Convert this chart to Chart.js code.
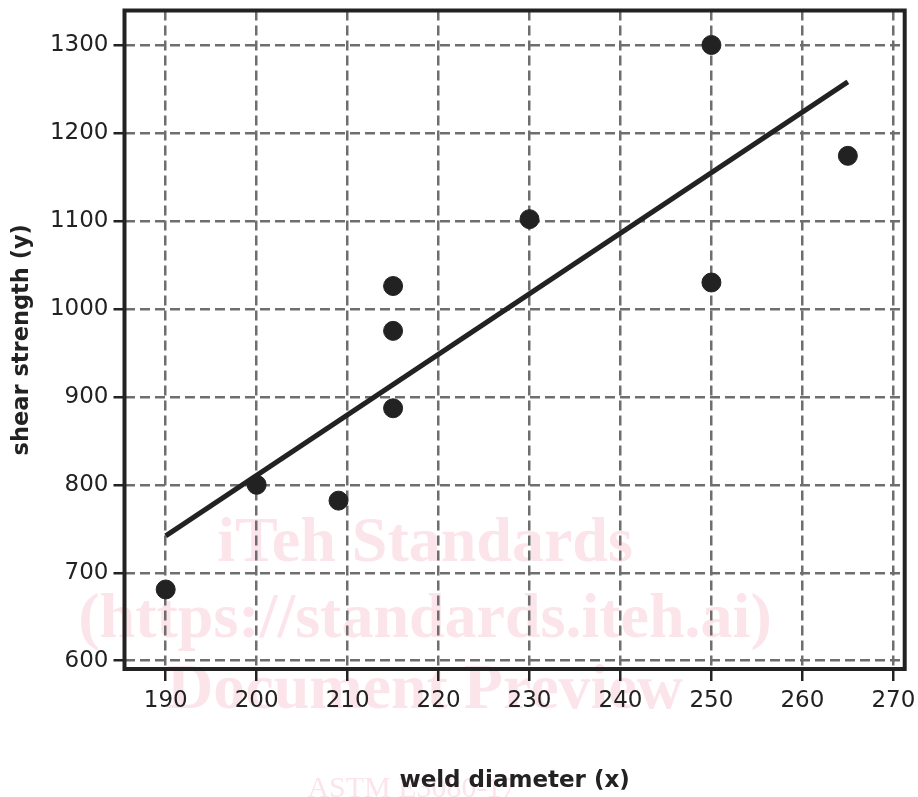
<!DOCTYPE html>
<html lang="en">
<head>
  <meta charset="UTF-8">
  <title>Shear strength vs weld diameter</title>
  <script src="https://cdn.jsdelivr.net/npm/chart.js"></script>
  <style>
    body { margin: 0; background: #fff; }
    .wrap { width: 918px; height: 797px; position: relative; }
  </style>
</head>
<body>
<div class="wrap"><canvas id="weldChart"></canvas></div>
<script>
  const diameter = [190, 200, 209, 215, 215, 215, 230, 250, 250, 265];
  const strength = [681, 800, 782, 1026, 975, 887, 1102, 1300, 1030, 1174];

  // fitted line end points
  const fitX = [190, 265];
  const fitY = [742, 1258];

  const ink = '#222222';
  const gridGrey = '#6e6e6e';
  const tickFont = { family: 'DejaVu Sans', size: 23 };

  // faint watermark behind the plot
  const watermark = {
    id: 'watermark',
    beforeDraw(chart) {
      const ctx = chart.ctx;
      ctx.save();
      ctx.fillStyle = 'rgba(235,130,160,0.22)';
      ctx.textAlign = 'center';
      ctx.textBaseline = 'alphabetic';
      ctx.font = 'bold 64px "Liberation Serif"';
      ctx.fillText('iTeh Standards', 425, 561);
      ctx.fillText('(https://standards.iteh.ai)', 425, 637);
      ctx.fillText('Document Preview', 425, 708);
      ctx.font = '30px "Liberation Serif"';
      ctx.fillText('ASTM E3080-17', 412, 797);
      ctx.restore();
    }
  };

  // solid frame around the plot area
  const frame = {
    id: 'frame',
    afterDraw(chart) {
      const a = chart.chartArea, ctx = chart.ctx;
      ctx.save();
      ctx.strokeStyle = ink;
      ctx.lineWidth = 4;
      ctx.strokeRect(a.left, a.top, a.right - a.left, a.bottom - a.top);
      ctx.restore();
    }
  };

  new Chart(document.getElementById('weldChart'), {
    type: 'scatter',
    data: {
      datasets: [
        {
          label: 'data',
          data: diameter.map((x, i) => ({ x, y: strength[i] })),
          backgroundColor: ink,
          borderColor: ink,
          pointRadius: 9.5,
          pointHoverRadius: 9.5
        },
        {
          type: 'line',
          label: 'fit',
          data: fitX.map((x, i) => ({ x, y: fitY[i] })),
          borderColor: ink,
          borderWidth: 5,
          pointRadius: 0,
          fill: false
        }
      ]
    },
    options: {
      responsive: true,
      maintainAspectRatio: false,
      animation: false,
      layout: { padding: { top: 8.7, right: 13.3, left: 0, bottom: 0 } },
      plugins: { legend: { display: false }, tooltip: { enabled: false } },
      scales: {
        x: {
          type: 'linear',
          min: 185.47, max: 271.25,
          afterFit(s) { s.height = 128; s.paddingLeft = 0; s.paddingRight = 0; },
          ticks: { stepSize: 10, includeBounds: false, color: ink, font: tickFont, padding: 6 },
          grid: { color: gridGrey, lineWidth: 2.5, tickColor: ink, tickWidth: 2.5, tickLength: 12, tickBorderDash: [] },
          border: { display: false, dash: [10, 5] },
          title: { display: true, text: 'weld diameter (x)', color: ink,
                   font: { family: 'DejaVu Sans', size: 23, weight: 'bold' }, padding: { top: 0, bottom: 2 } }
        },
        y: {
          min: 590.6, max: 1339.2,
          afterFit(s) { s.width = 124.5; s.paddingTop = 0; s.paddingBottom = 0; },
          ticks: { stepSize: 100, includeBounds: false, color: ink, font: tickFont, padding: 5,
                   callback: v => String(v) },
          grid: { color: gridGrey, lineWidth: 2.5, tickColor: ink, tickWidth: 2.5, tickLength: 11, tickBorderDash: [] },
          border: { display: false, dash: [10, 5] },
          title: { display: true, text: 'shear strength (y)', color: ink,
                   font: { family: 'DejaVu Sans', size: 22.5, weight: 'bold' }, padding: { top: 9, bottom: 0 } }
        }
      }
    },
    plugins: [watermark, frame]
  });
</script>
</body>
</html>
